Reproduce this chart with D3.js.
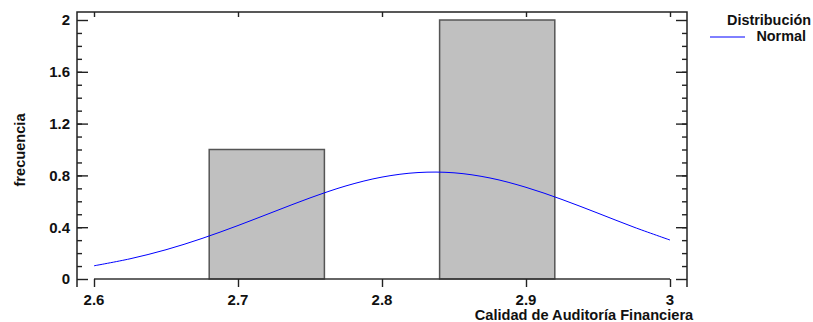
<!DOCTYPE html>
<html>
<head>
<meta charset="utf-8">
<script src="https://cdn.jsdelivr.net/npm/d3@7"></script>
<style>
  body { margin: 0; background: #fff; }
  text { font-family: "Liberation Sans", Arial, sans-serif; font-weight: bold; fill: #111; }
</style>
</head>
<body>
<svg width="813" height="322"></svg>
<script>
// histogram bins (frecuencia por clase)
const binStart = [2.68, 2.84];
const binEnd = [2.76, 2.92];
const counts = [1, 2];

// fitted normal curve
const curveX = [2.6, 2.625, 2.65, 2.675, 2.7, 2.725, 2.75, 2.775, 2.8, 2.825, 2.85, 2.875, 2.9, 2.925, 2.95, 2.975, 3.0];
const curveY = [0.102, 0.156, 0.226, 0.313, 0.413, 0.52, 0.626, 0.719, 0.787, 0.822, 0.82, 0.78, 0.708, 0.614, 0.508, 0.4, 0.301];

const xTicks = [2.6, 2.7, 2.8, 2.9, 3.0];
const yTicks = [0, 0.4, 0.8, 1.2, 1.6, 2];
const yMinor = d3.range(1, 20).map(d => d / 10);

const xTitle = "Calidad de Auditoría Financiera";
const yTitle = "frecuencia";
const legendTitle = "Distribución";
const legendItem = "Normal";

const svg = d3.select("svg");
const fLeft = 77, fRight = 687, fTop = 12, fBottom = 287;

const x = d3.scaleLinear().domain([2.6, 3]).range([94, 670]);
const y = d3.scaleLinear().domain([0, 2]).range([279, 20]);

// bars
svg.selectAll("rect.bar")
  .data(counts)
  .join("rect")
  .attr("class", "bar")
  .attr("x", (d, i) => x(binStart[i]))
  .attr("y", d => y(d))
  .attr("width", (d, i) => x(binEnd[i]) - x(binStart[i]))
  .attr("height", d => y(0) - y(d))
  .attr("fill", "#c0c0c0")
  .attr("stroke", "#555")
  .attr("stroke-width", 1.5);

// baseline of the histogram
svg.append("line")
  .attr("x1", x(2.6)).attr("x2", x(3))
  .attr("y1", y(0)).attr("y2", y(0))
  .attr("stroke", "#333").attr("stroke-width", 1.3);

// normal curve
const line = d3.line()
  .x((d, i) => x(d))
  .y((d, i) => y(curveY[i]))
  .curve(d3.curveCatmullRom);
svg.append("path")
  .attr("d", line(curveX))
  .attr("fill", "none")
  .attr("stroke", "#0000ff")
  .attr("stroke-width", 1);

// ticks
function ticks(axis, pos) {
  const g = svg.append("g").attr("transform", pos).call(axis);
  g.select(".domain").remove();
  g.selectAll("line").attr("stroke", "#222").attr("stroke-width", 1.4);
  g.selectAll("text").remove();
}
ticks(d3.axisRight(y).tickValues(yTicks).tickSize(11), `translate(${fLeft},0)`);
ticks(d3.axisRight(y).tickValues(yMinor).tickSize(5), `translate(${fLeft},0)`);
ticks(d3.axisLeft(y).tickValues(yTicks).tickSize(11), `translate(${fRight},0)`);
ticks(d3.axisLeft(y).tickValues(yMinor).tickSize(5), `translate(${fRight},0)`);
ticks(d3.axisBottom(x).tickValues(xTicks).tickSize(8), `translate(0,${y(0)})`);
ticks(d3.axisBottom(x).tickValues(xTicks).tickSize(5), `translate(0,${fTop})`);

// frame
svg.append("path")
  .attr("d", `M${fLeft},${fBottom}V${fTop}H${fRight}V${fBottom}`)
  .attr("fill", "none")
  .attr("stroke", "#222")
  .attr("stroke-width", 1.5);

// tick labels
svg.selectAll("text.ylab")
  .data(yTicks)
  .join("text")
  .attr("class", "ylab")
  .attr("x", 70)
  .attr("y", d => y(d))
  .attr("dy", "0.36em")
  .attr("text-anchor", "end")
  .style("font-size", "15px")
  .style("font-weight", "bold")
  .text(d => d3.format("~g")(d));

svg.selectAll("text.xlab")
  .data(xTicks)
  .join("text")
  .attr("class", "xlab")
  .attr("x", d => x(d))
  .attr("y", 305)
  .attr("text-anchor", "middle")
  .style("font-size", "15px")
  .style("font-weight", "bold")
  .text(d => d3.format("~g")(d));

// axis titles
svg.append("text")
  .attr("x", 584).attr("y", 320)
  .attr("text-anchor", "middle")
  .style("font-size", "14.6px")
  .text(xTitle);

svg.append("text")
  .attr("transform", "translate(25,150) rotate(-90)")
  .attr("text-anchor", "middle")
  .style("font-size", "14.6px")
  .text(yTitle);

// legend
svg.append("text")
  .attr("x", 769).attr("y", 25)
  .attr("text-anchor", "middle")
  .style("font-size", "14.4px")
  .text(legendTitle);
svg.append("line")
  .attr("x1", 710).attr("x2", 745)
  .attr("y1", 37).attr("y2", 37)
  .attr("stroke", "#0000ff").attr("stroke-width", 1);
svg.append("text")
  .attr("x", 806).attr("y", 41)
  .attr("text-anchor", "end")
  .style("font-size", "14.4px")
  .text(legendItem);
</script>
</body>
</html>
